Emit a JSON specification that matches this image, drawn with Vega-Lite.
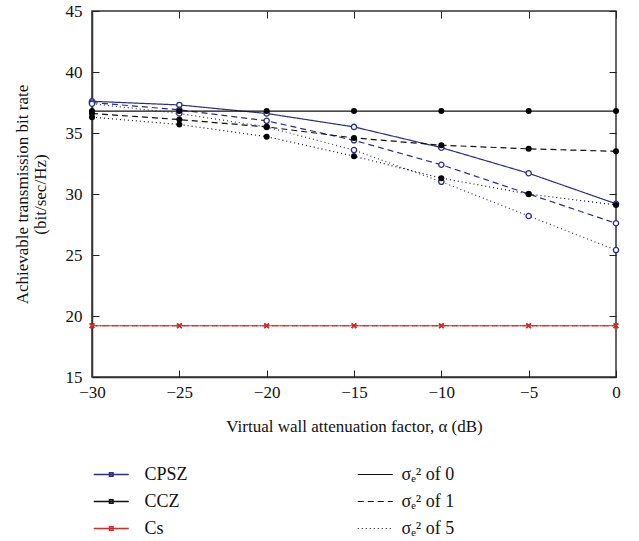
{
  "$schema": "https://vega.github.io/schema/vega-lite/v6.json",
  "width": 524,
  "height": 366,
  "autosize": "none",
  "padding": {"left": 92, "top": 11, "right": 23, "bottom": 164},
  "background": "white",
  "config": {
    "font": "Liberation Serif",
    "view": {"stroke": "#333", "strokeWidth": 1.5},
    "axis": {
      "grid": false,
      "domainColor": "#333",
      "domainWidth": 1.5,
      "labelFlush": false,
      "labelFont": "Liberation Serif",
      "labelFontSize": 17,
      "labelColor": "#111",
      "titleFont": "Liberation Serif",
      "titleFontSize": 17,
      "titleFontWeight": "normal",
      "titleColor": "#111"
    },
    "legend": {
      "labelFont": "Liberation Serif",
      "labelFontSize": 18,
      "labelColor": "#111",
      "padding": 0
    }
  },
  "data": {
    "values": [
      {"C": "CPSZ", "v": "0", "x": -30, "y": 37.6},
      {"C": "CPSZ", "v": "0", "x": -25, "y": 37.3},
      {"C": "CPSZ", "v": "0", "x": -20, "y": 36.6},
      {"C": "CPSZ", "v": "0", "x": -15, "y": 35.5},
      {"C": "CPSZ", "v": "0", "x": -10, "y": 33.8},
      {"C": "CPSZ", "v": "0", "x": -5, "y": 31.7},
      {"C": "CPSZ", "v": "0", "x": 0, "y": 29.2},
      {"C": "CPSZ", "v": "1", "x": -30, "y": 37.5},
      {"C": "CPSZ", "v": "1", "x": -25, "y": 36.9},
      {"C": "CPSZ", "v": "1", "x": -20, "y": 36.0},
      {"C": "CPSZ", "v": "1", "x": -15, "y": 34.4},
      {"C": "CPSZ", "v": "1", "x": -10, "y": 32.4},
      {"C": "CPSZ", "v": "1", "x": -5, "y": 30.0},
      {"C": "CPSZ", "v": "1", "x": 0, "y": 27.6},
      {"C": "CPSZ", "v": "5", "x": -30, "y": 37.4},
      {"C": "CPSZ", "v": "5", "x": -25, "y": 36.6},
      {"C": "CPSZ", "v": "5", "x": -20, "y": 35.5},
      {"C": "CPSZ", "v": "5", "x": -15, "y": 33.6},
      {"C": "CPSZ", "v": "5", "x": -10, "y": 31.0},
      {"C": "CPSZ", "v": "5", "x": -5, "y": 28.2},
      {"C": "CPSZ", "v": "5", "x": 0, "y": 25.4},
      {"C": "CCZ", "v": "0", "x": -30, "y": 36.8},
      {"C": "CCZ", "v": "0", "x": -25, "y": 36.8},
      {"C": "CCZ", "v": "0", "x": -20, "y": 36.8},
      {"C": "CCZ", "v": "0", "x": -15, "y": 36.8},
      {"C": "CCZ", "v": "0", "x": -10, "y": 36.8},
      {"C": "CCZ", "v": "0", "x": -5, "y": 36.8},
      {"C": "CCZ", "v": "0", "x": 0, "y": 36.8},
      {"C": "CCZ", "v": "1", "x": -30, "y": 36.6},
      {"C": "CCZ", "v": "1", "x": -25, "y": 36.1},
      {"C": "CCZ", "v": "1", "x": -20, "y": 35.5},
      {"C": "CCZ", "v": "1", "x": -15, "y": 34.6},
      {"C": "CCZ", "v": "1", "x": -10, "y": 34.0},
      {"C": "CCZ", "v": "1", "x": -5, "y": 33.7},
      {"C": "CCZ", "v": "1", "x": 0, "y": 33.5},
      {"C": "CCZ", "v": "5", "x": -30, "y": 36.3},
      {"C": "CCZ", "v": "5", "x": -25, "y": 35.7},
      {"C": "CCZ", "v": "5", "x": -20, "y": 34.7},
      {"C": "CCZ", "v": "5", "x": -15, "y": 33.1},
      {"C": "CCZ", "v": "5", "x": -10, "y": 31.3},
      {"C": "CCZ", "v": "5", "x": -5, "y": 30.0},
      {"C": "CCZ", "v": "5", "x": 0, "y": 29.1},
      {"C": "Cs", "v": "0", "x": -30, "y": 19.2},
      {"C": "Cs", "v": "0", "x": -25, "y": 19.2},
      {"C": "Cs", "v": "0", "x": -20, "y": 19.2},
      {"C": "Cs", "v": "0", "x": -15, "y": 19.2},
      {"C": "Cs", "v": "0", "x": -10, "y": 19.2},
      {"C": "Cs", "v": "0", "x": -5, "y": 19.2},
      {"C": "Cs", "v": "0", "x": 0, "y": 19.2},
      {"C": "Cs", "v": "1", "x": -30, "y": 19.2},
      {"C": "Cs", "v": "1", "x": -25, "y": 19.2},
      {"C": "Cs", "v": "1", "x": -20, "y": 19.2},
      {"C": "Cs", "v": "1", "x": -15, "y": 19.2},
      {"C": "Cs", "v": "1", "x": -10, "y": 19.2},
      {"C": "Cs", "v": "1", "x": -5, "y": 19.2},
      {"C": "Cs", "v": "1", "x": 0, "y": 19.2},
      {"C": "Cs", "v": "5", "x": -30, "y": 19.2},
      {"C": "Cs", "v": "5", "x": -25, "y": 19.2},
      {"C": "Cs", "v": "5", "x": -20, "y": 19.2},
      {"C": "Cs", "v": "5", "x": -15, "y": 19.2},
      {"C": "Cs", "v": "5", "x": -10, "y": 19.2},
      {"C": "Cs", "v": "5", "x": -5, "y": 19.2},
      {"C": "Cs", "v": "5", "x": 0, "y": 19.2}
    ]
  },
  "layer": [
    {
      "mark": {"type": "line", "strokeWidth": 1.2, "clip": false},
      "encoding": {
        "x": {
          "field": "x", "type": "quantitative",
          "scale": {"domain": [-30, 0], "nice": false},
          "axis": {"tickCount": 6, "tickSize": -7, "tickColor": "#222", "title": "Virtual wall attenuation factor, α (dB)", "titlePadding": 18, "labelPadding": 14}
        },
        "y": {
          "field": "y", "type": "quantitative",
          "scale": {"domain": [15, 45], "nice": false, "zero": false},
          "axis": {"tickCount": 6, "tickSize": -7, "tickColor": "#222", "title": ["Achievable transmission bit rate", "(bit/sec/Hz)"], "titlePadding": 16, "titleLineHeight": 18, "labelPadding": 17}
        },
        "color": {
          "field": "C", "type": "nominal",
          "scale": {"domain": ["CPSZ", "CCZ", "Cs"], "range": ["#2d2d82", "#111111", "#d42a2a"]},
          "legend": {
            "orient": "none", "legendX": 9.75, "legendY": 454, "title": null,
            "symbolType": "M-2,0H2M-0.2,-0.2H0.2V0.2H-0.2Z",
            "symbolSize": 306, "symbolStrokeWidth": 1.5,
            "labelOffset": 23.75, "rowPadding": 8
          }
        },
        "strokeDash": {
          "field": "v", "type": "nominal",
          "scale": {"domain": ["0", "1", "5"], "range": [[1, 0], [6, 4], [1, 3]]},
          "legend": {
            "orient": "none", "legendX": 273.75, "legendY": 454, "title": null,
            "symbolType": "M-2,0H2", "symbolSize": 306, "symbolStrokeWidth": 1.2,
            "symbolStrokeColor": "#111",
            "labelExpr": "'σₑ² of ' + datum.label",
            "labelOffset": 16.75, "rowPadding": 8
          }
        },
        "detail": {"field": "v"}
      }
    },
    {
      "transform": [{"filter": "datum.C == 'CPSZ'"}],
      "mark": {"type": "point", "shape": "circle", "size": 28, "filled": true, "fill": "white", "stroke": "#2d2d82", "strokeWidth": 1.3, "opacity": 1, "clip": false},
      "encoding": {
        "x": {"field": "x", "type": "quantitative", "axis": {"orient": "top", "labels": false, "domain": false, "tickCount": 6, "tickSize": -7, "tickColor": "#222", "title": null}},
        "y": {"field": "y", "type": "quantitative", "axis": {"orient": "right", "labels": false, "domain": false, "tickCount": 6, "tickSize": -7, "tickColor": "#222", "title": null}}
      }
    },
    {
      "transform": [{"filter": "datum.C == 'CCZ'"}],
      "mark": {"type": "point", "shape": "circle", "size": 36, "filled": true, "fill": "#000", "opacity": 1, "clip": false},
      "encoding": {
        "x": {"field": "x", "type": "quantitative", "axis": null},
        "y": {"field": "y", "type": "quantitative", "axis": null}
      }
    },
    {
      "transform": [{"filter": "datum.C == 'Cs'"}],
      "mark": {"type": "point", "shape": "M-1,-1L1,1M-1,1L1,-1", "size": 20, "filled": false, "stroke": "#d42a2a", "strokeWidth": 1.3, "opacity": 1, "clip": false},
      "encoding": {
        "x": {"field": "x", "type": "quantitative", "axis": null},
        "y": {"field": "y", "type": "quantitative", "axis": null}
      }
    }
  ],
  "resolve": {"axis": {"x": "independent", "y": "independent"}}
}
